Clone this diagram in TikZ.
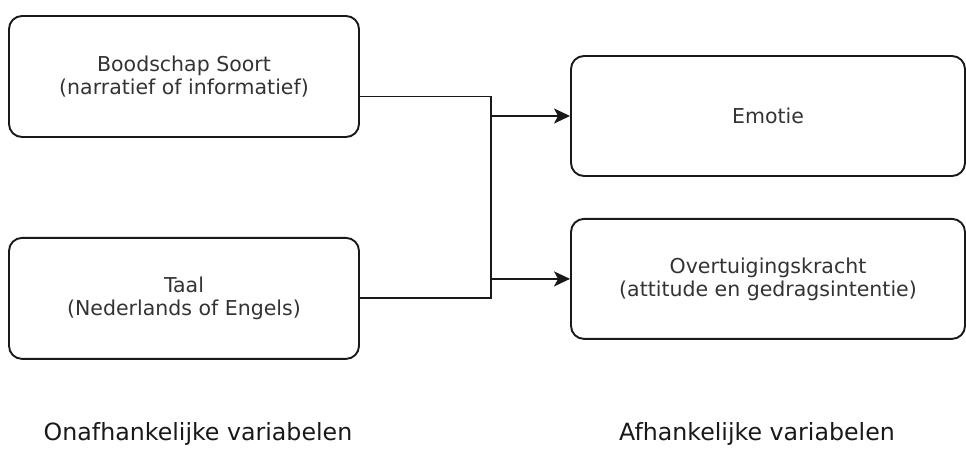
\documentclass[tikz,border=0pt]{standalone}
\usepackage{fontspec}
\setmainfont{DejaVu Sans}
\usetikzlibrary{arrows.meta,positioning}

\begin{document}
\begin{tikzpicture}[
		x=1pt, y=-1pt,
		box/.style={draw=black!90, rounded corners=13pt, line width=1.9pt, align=center, inner sep=0pt, text=black!80, font=\fontsize{20.5}{23}\selectfont},
		lbox/.style={box, minimum width=350pt, minimum height=121pt},
		rbox/.style={box, minimum width=394pt, minimum height=120pt},
		link/.style={line width=1.9pt, draw=black!90},
		arr/.style={link, -{Stealth[length=16pt, width=15pt, inset=4pt]}},
		lbl/.style={font=\fontsize{23.7}{28}\selectfont, inner sep=0pt, anchor=base, text=black!90}
	]
	\useasboundingbox (0,0) rectangle (966,448);

	\node[lbox] (boodschap) at (184,76.5) {Boodschap Soort\\(narratief of informatief)};
	\node[lbox, below=99pt of boodschap] (taal) {Taal\\(Nederlands of Engels)};

	\node[rbox] (emotie) at (768,116) {Emotie};
	\node[rbox, below=41pt of emotie] (overtuiging) {Overtuigingskracht\\(attitude en gedragsintentie)};

	\node[lbl] (onafh) at (198,440) {Onafhankelijke variabelen};
	\node[lbl] (afh) at (757,440) {Afhankelijke variabelen};

	\coordinate (bus) at (491,196);
	\draw[link] ([yshift=-20pt]boodschap.east) -| (bus) |- (taal.east);
	\draw[arr] (bus |- emotie.west) -- (emotie.west);
	\draw[arr] (bus |- overtuiging.west) -- (overtuiging.west);
\end{tikzpicture}
\end{document}
